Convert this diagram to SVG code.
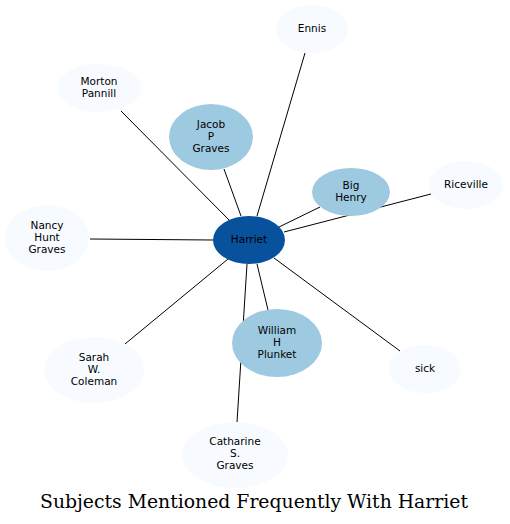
<svg xmlns="http://www.w3.org/2000/svg" width="510" height="524" viewBox="0 0 510 524">
<style>
.n text{font-family:"DejaVu Sans",sans-serif;font-size:10.5px;text-anchor:middle;fill:#000}
.l{fill:#f7fbff}
.m{fill:#9ecae1}
.h{fill:#08519c}
#edges line{stroke:#000;stroke-width:1}
.t{font-family:"DejaVu Serif","Liberation Serif",serif;font-size:18px;fill:#000}
</style>
<rect width="510" height="524" fill="#fff"/>
<g id="edges">
<line x1="257" y1="216" x2="305" y2="53"/>
<line x1="230" y1="221" x2="121" y2="111"/>
<line x1="241" y1="216" x2="224" y2="169"/>
<line x1="279" y1="227" x2="320" y2="207"/>
<line x1="284" y1="232" x2="431" y2="194"/>
<line x1="213" y1="240" x2="90" y2="239"/>
<line x1="228" y1="259" x2="125" y2="344"/>
<line x1="257" y1="264" x2="268" y2="310"/>
<line x1="274" y1="258" x2="400" y2="351"/>
<line x1="247" y1="264" x2="237" y2="422"/>
</g>
<g id="harriet" class="n"><ellipse class="h" cx="249" cy="240" rx="36" ry="24"/><text x="249" y="243">Harriet</text></g>
<g id="ennis" class="n"><ellipse class="l" cx="312" cy="29" rx="36" ry="24"/><text x="312" y="32">Ennis</text></g>
<g id="morton" class="n"><ellipse class="l" cx="99" cy="88" rx="42" ry="24"/><text x="99" y="85">Morton</text><text x="99" y="97">Pannill</text></g>
<g id="jacob" class="n"><ellipse class="m" cx="211" cy="137" rx="42" ry="33"/><text x="211" y="128">Jacob</text><text x="211" y="140">P</text><text x="211" y="152">Graves</text></g>
<g id="bighenry" class="n"><ellipse class="m" cx="351" cy="192" rx="39" ry="24"/><text x="351" y="189">Big</text><text x="351" y="201">Henry</text></g>
<g id="riceville" class="n"><ellipse class="l" cx="466" cy="185" rx="37" ry="24"/><text x="466" y="188">Riceville</text></g>
<g id="nancy" class="n"><ellipse class="l" cx="47" cy="238" rx="42" ry="33"/><text x="47" y="229">Nancy</text><text x="47" y="241">Hunt</text><text x="47" y="253">Graves</text></g>
<g id="sarah" class="n"><ellipse class="l" cx="94" cy="370" rx="50" ry="33"/><text x="94" y="361">Sarah</text><text x="94" y="373">W.</text><text x="94" y="385">Coleman</text></g>
<g id="william" class="n"><ellipse class="m" cx="277" cy="343" rx="45" ry="34"/><text x="277" y="334">William</text><text x="277" y="346">H</text><text x="277" y="358">Plunket</text></g>
<g id="sick" class="n"><ellipse class="l" cx="425" cy="369" rx="36" ry="24"/><text x="425" y="372">sick</text></g>
<g id="catharine" class="n"><ellipse class="l" cx="235" cy="455" rx="53" ry="33"/><text x="235" y="445">Catharine</text><text x="235" y="457">S.</text><text x="235" y="469">Graves</text></g>
<text class="t" x="40" y="508" textLength="428" lengthAdjust="spacingAndGlyphs">Subjects Mentioned Frequently With Harriet</text>
</svg>
